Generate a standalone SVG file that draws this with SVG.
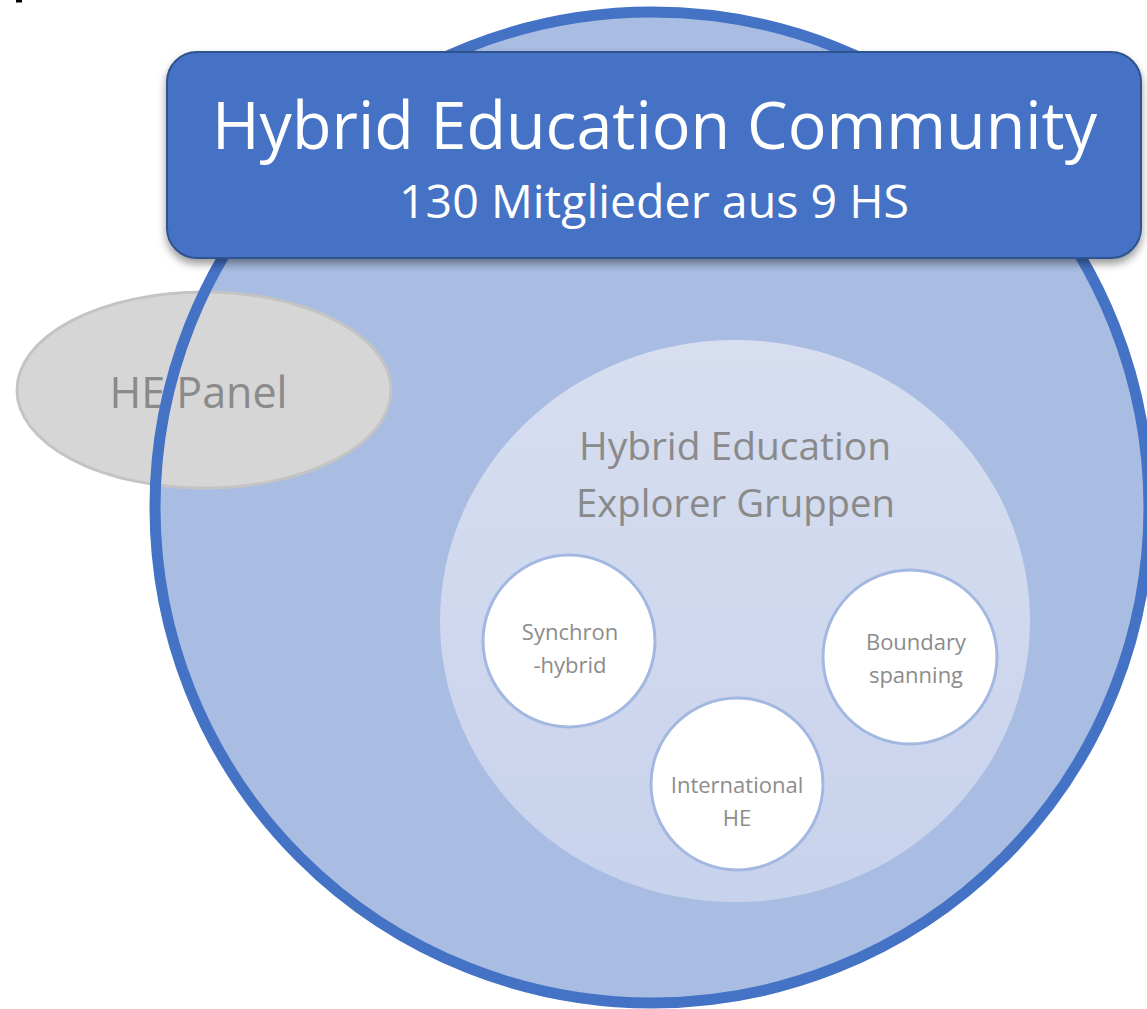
<svg xmlns="http://www.w3.org/2000/svg" width="1147" height="1009" viewBox="0 0 1147 1009">
  <style>
    .lbl { font-family: "Open Sans", "Liberation Sans", sans-serif; text-anchor: middle; }
    .head { fill: #FFFFFF; }
    .gray { fill: #8A8A8A; }
    .small { fill: #8C8C8C; font-size: 22px; }
    .sub { fill: #FFFFFF; stroke: #A3B8E0; stroke-width: 3; }
  </style>
  <defs>
    <linearGradient id="innerGrad" x1="0" y1="0" x2="0" y2="1">
      <stop offset="0" stop-color="#D7DEF0"/>
      <stop offset="1" stop-color="#C8D2EC"/>
    </linearGradient>
    <filter id="shadow" x="-5%" y="-10%" width="110%" height="130%">
      <feDropShadow dx="0" dy="5" stdDeviation="4" flood-color="#000000" flood-opacity="0.4"/>
    </filter>
  </defs>

  <rect x="16" y="0" width="6" height="2.5" fill="#000000"/>

  <g id="community">
    <ellipse cx="652" cy="507.5" rx="497" ry="495.5" fill="#A9BDE3"/>
  </g>

  <g id="he-panel">
    <ellipse cx="204" cy="390" rx="187" ry="98" fill="#D6D6D6" stroke="#C4C4C4" stroke-width="3"/>
    <text class="lbl gray" x="198.5" y="408" font-size="43">HE Panel</text>
  </g>

  <g id="community-outline">
    <ellipse cx="652" cy="507.5" rx="497" ry="495.5" fill="none" stroke="#4472C4" stroke-width="11"/>
  </g>

  <g id="explorer-gruppen">
    <ellipse cx="735" cy="621" rx="295" ry="281" fill="url(#innerGrad)"/>
    <text class="lbl gray" x="735" y="460" font-size="38" textLength="312" lengthAdjust="spacingAndGlyphs">Hybrid Education</text>
    <text class="lbl gray" x="735.5" y="517" font-size="38" textLength="319" lengthAdjust="spacingAndGlyphs">Explorer Gruppen</text>
  </g>

  <g id="synchron-hybrid">
    <circle class="sub" cx="569" cy="641" r="86"/>
    <text class="lbl small" x="570" y="640">Synchron</text>
    <text class="lbl small" x="570" y="673">-hybrid</text>
  </g>

  <g id="boundary-spanning">
    <circle class="sub" cx="910" cy="657" r="87"/>
    <text class="lbl small" x="916" y="650">Boundary</text>
    <text class="lbl small" x="916" y="683">spanning</text>
  </g>

  <g id="international-he">
    <circle class="sub" cx="737" cy="784" r="86"/>
    <text class="lbl small" x="737" y="793">International</text>
    <text class="lbl small" x="737" y="826">HE</text>
  </g>

  <g id="header">
    <rect x="167" y="52" width="974" height="206" rx="30" ry="30" fill="#4472C4" stroke="#2F528F" stroke-width="2" filter="url(#shadow)"/>
    <text class="lbl head" x="654.5" y="149" font-size="65" textLength="885" lengthAdjust="spacingAndGlyphs">Hybrid Education Community</text>
    <text class="lbl head" x="654" y="218" font-size="46" textLength="510" lengthAdjust="spacingAndGlyphs">130 Mitglieder aus 9 HS</text>
  </g>

  <g id="connectors"></g>
</svg>
